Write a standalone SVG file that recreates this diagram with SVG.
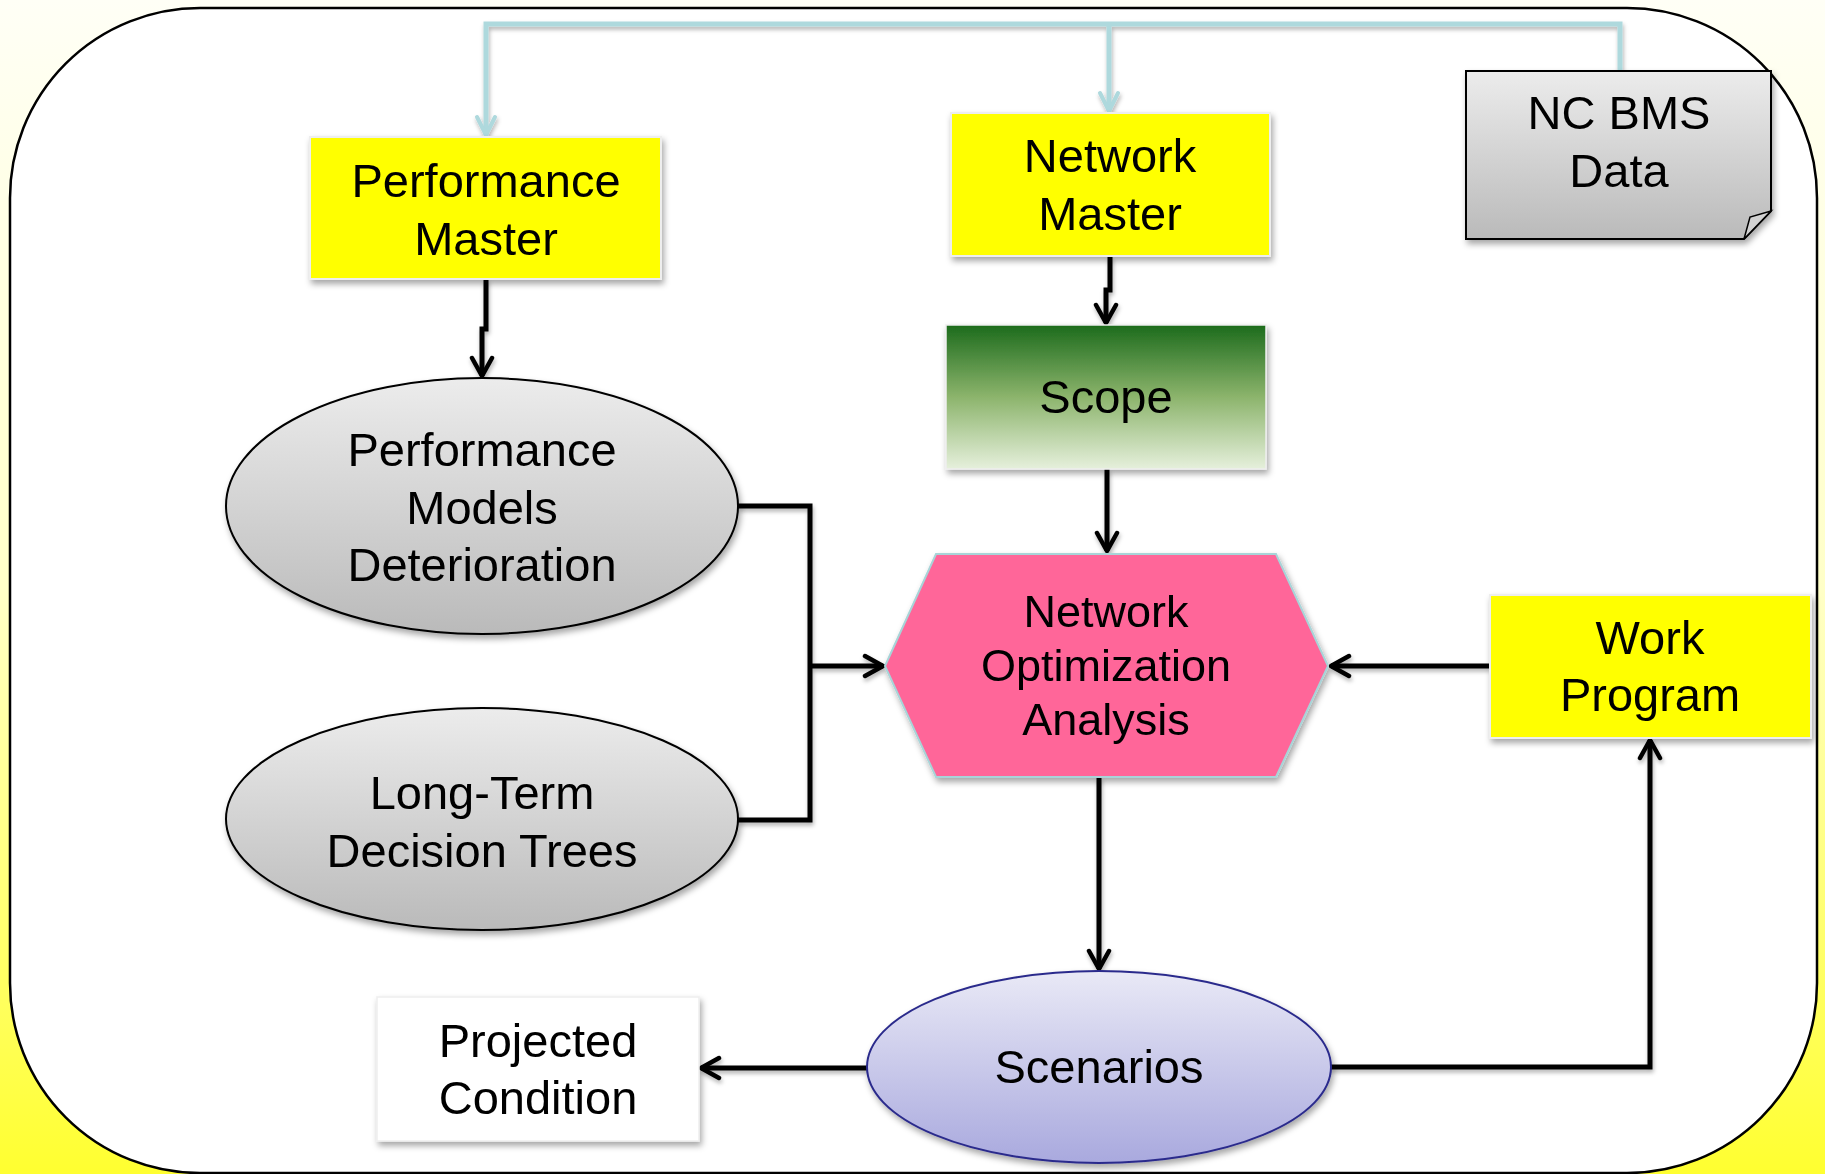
<svg xmlns="http://www.w3.org/2000/svg" width="1825" height="1174" viewBox="0 0 1825 1174">
<defs>
<linearGradient id="bg" x1="0" y1="0" x2="0" y2="1">
<stop offset="0" stop-color="#fffff6"/>
<stop offset="0.5" stop-color="#ffffc8"/>
<stop offset="1" stop-color="#ffff30"/>
</linearGradient>
<linearGradient id="gray" x1="0" y1="0" x2="0" y2="1">
<stop offset="0" stop-color="#ececec"/>
<stop offset="1" stop-color="#bababa"/>
</linearGradient>
<linearGradient id="green" x1="0" y1="0" x2="0" y2="1">
<stop offset="0" stop-color="#1c6b1c"/>
<stop offset="0.5" stop-color="#8cb46c"/>
<stop offset="1" stop-color="#e6f0dc"/>
</linearGradient>
<linearGradient id="lav" x1="0" y1="0" x2="0" y2="1">
<stop offset="0" stop-color="#e9e9f6"/>
<stop offset="1" stop-color="#a9a9de"/>
</linearGradient>
<filter id="sh" x="-10%" y="-10%" width="120%" height="130%">
<feDropShadow dx="2" dy="4" stdDeviation="3" flood-color="#000" flood-opacity="0.35"/>
</filter>
<filter id="lsh" x="-5%" y="-5%" width="110%" height="110%">
<feDropShadow dx="1" dy="3" stdDeviation="2" flood-color="#000" flood-opacity="0.3"/>
</filter>
<marker id="ab" markerUnits="userSpaceOnUse" viewBox="0 0 26 26" markerWidth="26" markerHeight="26" refX="22" refY="13" orient="auto">
<path d="M4,3 L22,13 L4,23" fill="none" stroke="#000" stroke-width="4.5" stroke-linecap="round" stroke-linejoin="round"/>
</marker>
<marker id="ac" markerUnits="userSpaceOnUse" viewBox="0 0 24 24" markerWidth="24" markerHeight="24" refX="21" refY="12" orient="auto">
<path d="M3,3 L21,12 L3,21" fill="none" stroke="#aed9dd" stroke-width="4" stroke-linecap="round" stroke-linejoin="round"/>
</marker>
</defs>
<style>
text{font-family:"Liberation Sans",Arial,sans-serif;font-size:47px;fill:#000;text-anchor:middle}
.hx{font-size:45px}
.yb{fill:#ffff00;stroke:#eeeeee;stroke-width:2}
.k{fill:none;stroke:#000;stroke-width:5}
.c{fill:none;stroke:#aed9dd;stroke-width:5}
</style>
<rect x="0" y="0" width="1825" height="1174" fill="url(#bg)"/>
<rect x="10" y="8" width="1807" height="1165" rx="190" ry="190" fill="#fff" stroke="#000" stroke-width="2.5"/>

<g id="connectors">
<g filter="url(#lsh)">
<path class="c" d="M1620,71 V24 H486 V135" marker-end="url(#ac)"/>
<path class="c" d="M1109,24 V111" marker-end="url(#ac)"/>
<path class="k" d="M486,279 V329 H482 V376" marker-end="url(#ab)"/>
<path class="k" d="M1110,256 V290 H1106 V323" marker-end="url(#ab)"/>
<path class="k" d="M1107,469 V551" marker-end="url(#ab)"/>
<path class="k" d="M738,506 H810 V820 H738"/>
<path class="k" d="M810,666 H883" marker-end="url(#ab)"/>
<path class="k" d="M1099,777 V969" marker-end="url(#ab)"/>
<path class="k" d="M1490,666 H1331" marker-end="url(#ab)"/>
<path class="k" d="M1330,1067 H1650 V740" marker-end="url(#ab)"/>
<path class="k" d="M867,1068 H701" marker-end="url(#ab)"/>
</g>
</g>

<g id="performance-master" filter="url(#sh)">
<rect class="yb" x="310" y="137" width="351" height="142"/>
<text x="486" y="197">Performance</text>
<text x="486" y="255">Master</text>
</g>

<g id="network-master" filter="url(#sh)">
<rect class="yb" x="951" y="113" width="319" height="143"/>
<text x="1110" y="172">Network</text>
<text x="1110" y="230">Master</text>
</g>

<g id="nc-bms-data" filter="url(#sh)">
<path d="M1466,71 H1771 V211 L1744,239 H1466 Z" fill="url(#gray)" stroke="#000" stroke-width="2"/>
<path d="M1744,239 L1750,217 L1771,211 Z" fill="#d2d2d2" stroke="#000" stroke-width="1.5"/>
<text x="1619" y="129">NC BMS</text>
<text x="1619" y="187">Data</text>
</g>

<g id="scope" filter="url(#sh)">
<rect x="946" y="325" width="320" height="144" fill="url(#green)" stroke="#eeeeee" stroke-width="1.5"/>
<text x="1106" y="413">Scope</text>
</g>

<g id="performance-models" filter="url(#sh)">
<ellipse cx="482" cy="506" rx="256" ry="128" fill="url(#gray)" stroke="#000" stroke-width="2"/>
<text x="482" y="466">Performance</text>
<text x="482" y="524">Models</text>
<text x="482" y="581">Deterioration</text>
</g>

<g id="decision-trees" filter="url(#sh)">
<ellipse cx="482" cy="819" rx="256" ry="111" fill="url(#gray)" stroke="#000" stroke-width="2"/>
<text x="482" y="809">Long-Term</text>
<text x="482" y="867">Decision Trees</text>
</g>

<g id="network-optimization" filter="url(#sh)">
<path d="M885,666 L936,554 H1276 L1328,666 L1276,777 H936 Z" fill="#ff6699" stroke="#a8d4d8" stroke-width="2"/>
<text class="hx" x="1106" y="627">Network</text>
<text class="hx" x="1106" y="681">Optimization</text>
<text class="hx" x="1106" y="735">Analysis</text>
</g>

<g id="work-program" filter="url(#sh)">
<rect class="yb" x="1490" y="595" width="321" height="143"/>
<text x="1650" y="654">Work</text>
<text x="1650" y="711">Program</text>
</g>

<g id="scenarios" filter="url(#sh)">
<ellipse cx="1099" cy="1067" rx="232" ry="96" fill="url(#lav)" stroke="#2b2b8c" stroke-width="2"/>
<text x="1099" y="1083">Scenarios</text>
</g>

<g id="projected-condition" filter="url(#sh)">
<rect x="377" y="997" width="322" height="144" fill="#fff" stroke="#eeeeee" stroke-width="1.5"/>
<text x="538" y="1057">Projected</text>
<text x="538" y="1114">Condition</text>
</g>
</svg>
